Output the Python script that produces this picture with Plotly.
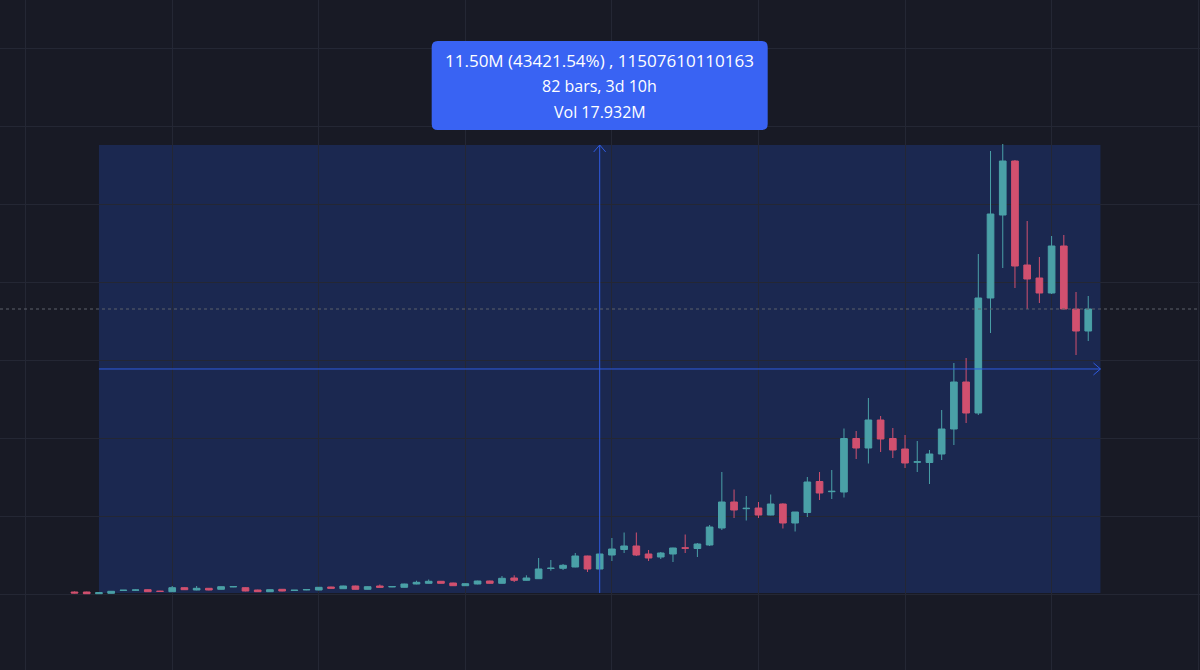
import pandas as pd
import plotly.graph_objects as go

BG = "#181a25"
GRID = "#242734"
UP = "#4aa0a7"
DOWN = "#d1506f"
BLUE = "#2f5be0"
TOOLTIP = "#3963f3"

# hourly bars, prices in thousands
START = pd.Timestamp("2024-01-14 16:00")

OPEN = [
    51.3, 51.3, 7.7, 18.0, 89.8, 97.5, 110.4, 71.9, 59.0, 161.7,
    102.7, 146.3, 120.6, 182.3, 161.7, 102.7, 59.0, 120.6, 89.8, 105.2,
    102.7, 179.7, 136.1, 205.4, 120.6, 205.4, 182.3, 172.0, 256.7, 274.7,
    326.0, 282.4, 213.1, 256.7, 333.7, 274.7, 410.7, 351.7, 392.8, 654.6,
    659.7, 693.1, 975.5, 641.8, 1001.1, 1142.3, 1232.2, 1026.8, 949.8, 1026.8,
    1186.0, 1168.0, 1257.8, 1694.2, 2361.6, 2189.7, 2207.6, 2027.9, 2310.3, 1822.6,
    2092.1, 2887.9, 2626.0, 2618.3, 3991.7, 3747.8, 4466.6, 3991.7, 3722.2, 3383.3,
    3375.6, 3593.8, 4235.6, 5442.0, 4646.3, 7598.3, 9728.9, 11115.1, 8445.4, 8111.7,
    7726.7, 8933.2, 7316.0, 6751.2,
]
HIGH = [
    64.2, 59.0, 38.5, 77.0, 102.7, 115.5, 120.6, 82.1, 205.4, 172.0,
    205.4, 154.0, 197.7, 200.2, 172.0, 110.4, 118.1, 128.4, 102.7, 118.1,
    179.7, 187.4, 213.1, 213.1, 195.1, 243.9, 195.1, 264.4, 341.4, 372.2,
    333.7, 290.1, 272.1, 341.4, 341.4, 462.1, 480.0, 480.0, 924.1, 872.8,
    770.1, 1052.5, 983.2, 1039.6, 1437.5, 1578.7, 1578.7, 1129.5, 1078.1, 1188.5,
    1527.4, 1309.2, 1771.2, 3131.7, 2682.5, 2515.7, 2361.6, 2554.2, 2328.3, 2104.9,
    3003.4, 3131.7, 3183.1, 4248.4, 4184.2, 5031.3, 4569.3, 4261.2, 4081.5, 3927.5,
    3696.5, 4723.3, 5929.8, 6058.1, 8727.8, 11371.8, 11551.5, 11140.8, 9574.9, 8650.8,
    9189.9, 9215.5, 7752.3, 7649.7,
]
LOW = [
    18.0, 5.1, 2.6, 12.8, 77.0, 84.7, 51.3, 61.6, 51.3, 102.7,
    95.0, 95.0, 112.9, 174.6, 69.3, 51.3, 51.3, 69.3, 82.1, 97.5,
    95.0, 138.6, 128.4, 112.9, 112.9, 164.3, 174.6, 164.3, 249.0, 267.0,
    267.0, 205.4, 205.4, 249.0, 267.0, 267.0, 308.0, 344.0, 385.1, 598.1,
    616.1, 685.4, 564.7, 634.0, 847.1, 1052.5, 975.5, 847.1, 898.5, 821.4,
    1052.5, 949.8, 1232.2, 1642.9, 1950.9, 1886.7, 1950.9, 2020.2, 1681.4, 1604.4,
    1976.6, 2413.0, 2438.7, 2477.2, 3465.5, 3349.9, 3645.1, 3491.1, 3234.4, 3131.7,
    2823.7, 3439.8, 3824.8, 4389.6, 4594.9, 6699.9, 8368.4, 7855.0, 7316.0, 7470.0,
    7701.0, 7303.1, 6135.1, 6494.5,
]
CLOSE = [
    25.7, 7.7, 33.4, 69.3, 97.5, 102.7, 59.0, 66.7, 161.7, 110.4,
    146.3, 102.7, 187.4, 190.0, 77.0, 59.0, 110.4, 77.0, 97.5, 112.9,
    172.0, 146.3, 205.4, 120.6, 187.4, 172.0, 190.0, 256.7, 300.3, 326.0,
    274.7, 213.1, 264.4, 333.7, 274.7, 403.0, 351.7, 410.7, 641.8, 662.3,
    736.7, 975.5, 641.8, 1026.8, 1155.2, 1232.2, 1001.1, 924.1, 1052.5, 1180.8,
    1175.7, 1283.5, 1719.9, 2361.6, 2156.3, 2199.9, 2027.9, 2310.3, 1822.6, 2104.9,
    2875.0, 2592.7, 2636.3, 3991.7, 3747.8, 4466.6, 3978.9, 3696.5, 3362.8, 3393.6,
    3593.8, 4235.6, 5442.0, 4646.3, 7598.3, 9754.6, 11115.1, 8419.8, 8086.1, 7726.7,
    8933.2, 7316.0, 6751.2, 7316.0,
]

# price range measurement
MEASURE_FROM_BAR = 2
MEASURE_TO_BAR = 84
MEASURE_FROM_PRICE = 26.5
MEASURE_TO_PRICE = 11526.5
LABEL_LINES = ["11.50M (43421.54%) , 11507610110163", "82 bars, 3d 10h", "Vol 17.932M"]


def bar_time(i):
    return START + pd.Timedelta(hours=i)


times = pd.date_range(START, periods=len(OPEN), freq="h")

fig = go.Figure(
    go.Candlestick(
        x=times,
        open=OPEN,
        high=HIGH,
        low=LOW,
        close=CLOSE,
        increasing={"line": {"color": UP, "width": 1}, "fillcolor": UP},
        decreasing={"line": {"color": DOWN, "width": 1}, "fillcolor": DOWN},
        whiskerwidth=0,
        hoverinfo="skip",
    )
)

x0 = bar_time(MEASURE_FROM_BAR)
x1 = bar_time(MEASURE_TO_BAR)
xmid = bar_time((MEASURE_FROM_BAR + MEASURE_TO_BAR) / 2)
ymid = (MEASURE_FROM_PRICE + MEASURE_TO_PRICE) / 2

shapes = [
    dict(type="rect", x0=x0, x1=x1, y0=MEASURE_FROM_PRICE, y1=MEASURE_TO_PRICE,
         fillcolor="rgba(41,98,255,0.2)", line={"width": 0}, layer="below"),
    dict(type="line", x0=xmid, x1=xmid, y0=MEASURE_FROM_PRICE, y1=MEASURE_TO_PRICE,
         line={"color": BLUE, "width": 1}),
    dict(type="line", x0=x0, x1=x1, y0=ymid, y1=ymid,
         line={"color": BLUE, "width": 1}),
    dict(type="path", xsizemode="pixel", ysizemode="pixel",
         xanchor=str(xmid), yanchor=MEASURE_TO_PRICE,
         path="M -6,-7 L 0,0 L 6,-7", line={"color": BLUE, "width": 1}),
    dict(type="path", xsizemode="pixel", ysizemode="pixel",
         xanchor=str(x1), yanchor=ymid,
         path="M -7,6 L 0,0 L -7,-6", line={"color": BLUE, "width": 1}),
    dict(type="line", xref="paper", x0=0, x1=1, y0=CLOSE[-1], y1=CLOSE[-1],
         line={"color": "#5d606b", "width": 1, "dash": "dot"}),
    dict(type="path", xsizemode="pixel", ysizemode="pixel",
         xanchor=str(xmid), yanchor=MEASURE_TO_PRICE,
         path=("M -162,15 L 162,15 Q 168,15 168,21 L 168,98 Q 168,104 162,104 "
               "L -162,104 Q -168,104 -168,98 L -168,21 Q -168,15 -162,15 Z"),
         fillcolor=TOOLTIP, line={"width": 0}, layer="above"),
]

annotations = [
    dict(x=xmid, y=MEASURE_TO_PRICE, text=line, showarrow=False, yshift=shift,
         font={"color": "white", "size": size, "family": "Open Sans, Roboto, sans-serif"})
    for line, shift, size in zip(LABEL_LINES, [84, 59, 33], [17, 16, 16])
]

fig.update_layout(
    width=1200,
    height=670,
    paper_bgcolor=BG,
    plot_bgcolor=BG,
    margin={"l": 0, "r": 0, "t": 0, "b": 0},
    showlegend=False,
    boxgap=0.22,
    shapes=shapes,
    annotations=annotations,
)
fig.update_xaxes(
    range=[bar_time(-6.1), bar_time(92.15)],
    rangeslider_visible=False,
    showticklabels=False,
    showgrid=True,
    gridcolor=GRID,
    zeroline=False,
    dtick=12 * 3600 * 1000,
    tick0=bar_time(8),
)
fig.update_yaxes(
    range=[-1951, 15248],
    showticklabels=False,
    showgrid=True,
    gridcolor=GRID,
    zeroline=False,
    dtick=2000,
    tick0=0,
)

fig.write_html(
    "out.html",
    config={"displayModeBar": False},
    post_script="document.body.style.margin='0';document.body.style.background='%s';" % BG,
)
